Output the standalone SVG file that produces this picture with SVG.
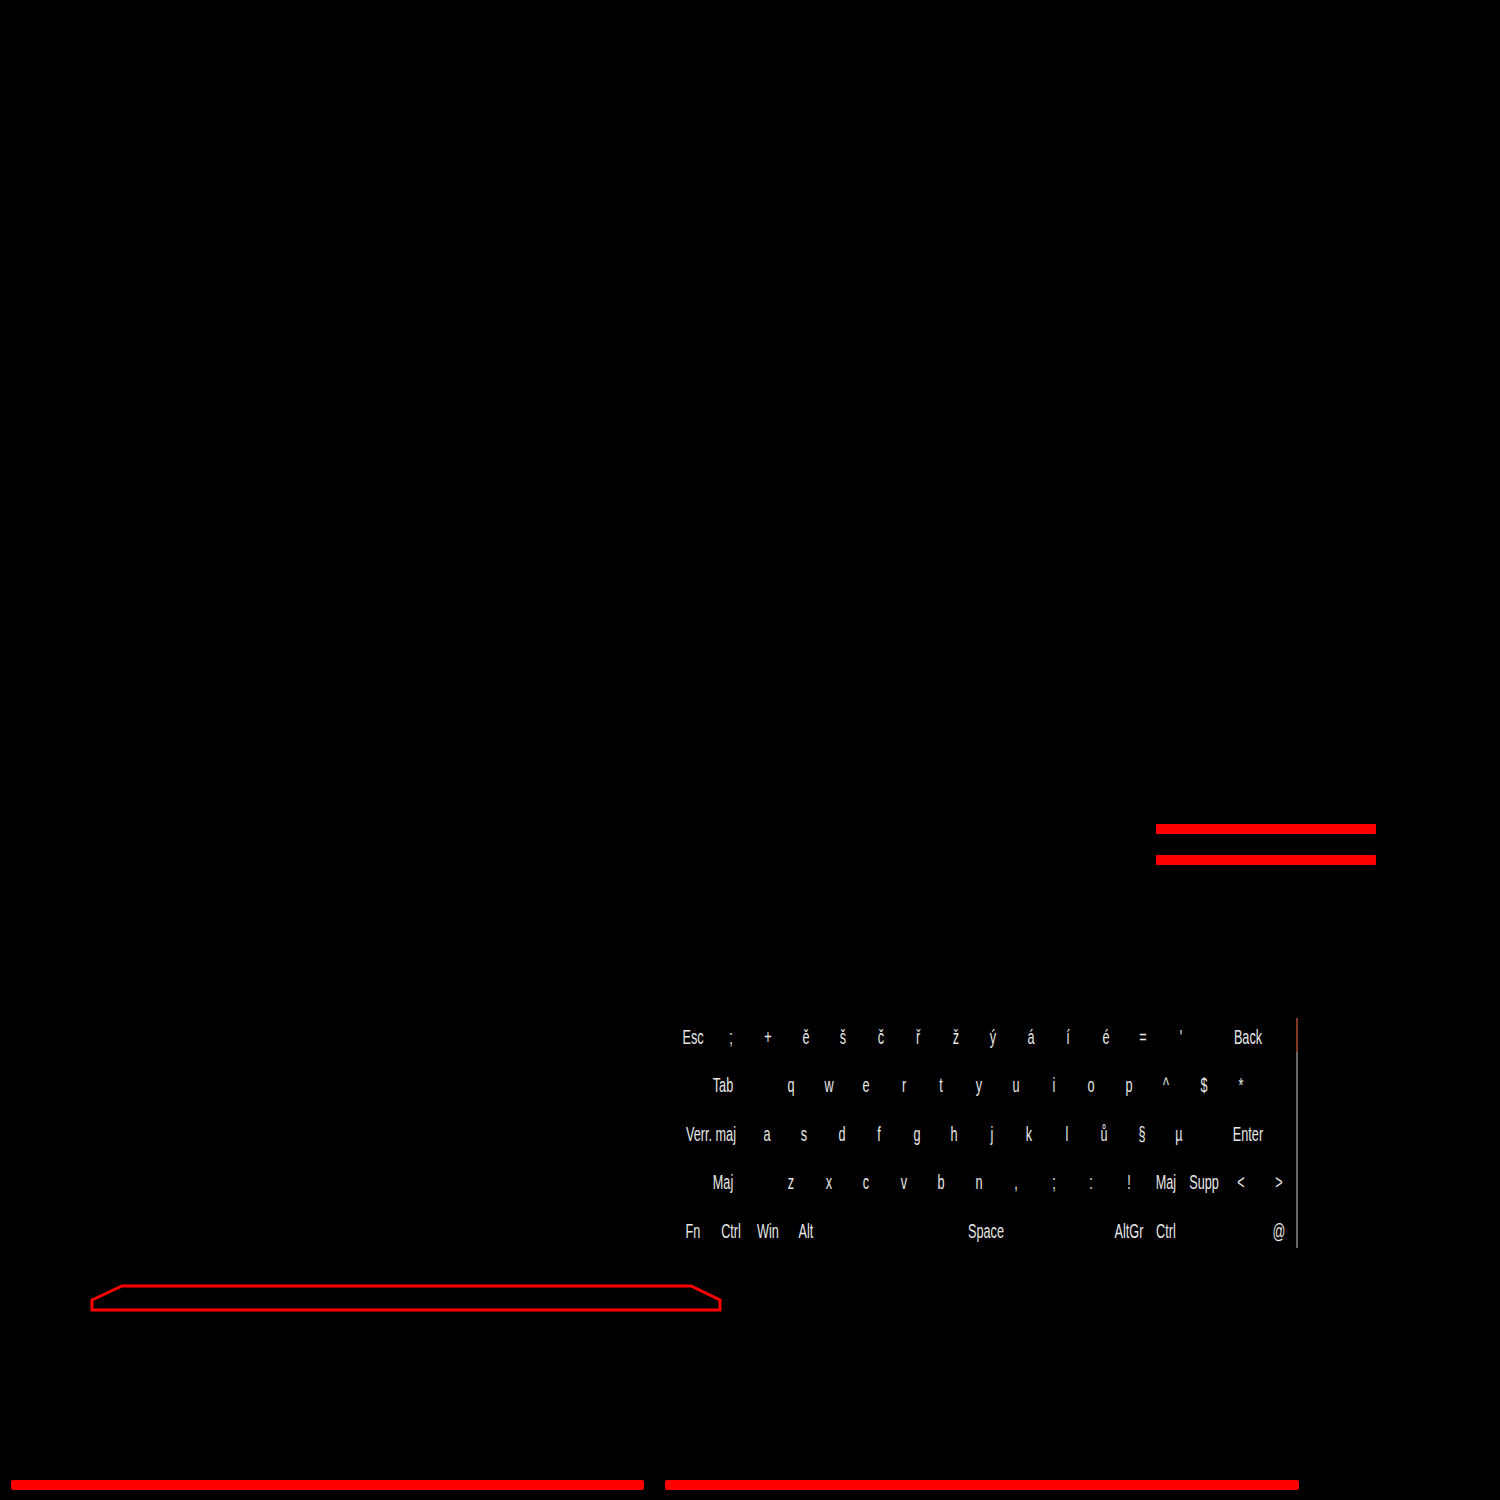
<svg xmlns="http://www.w3.org/2000/svg" width="1500" height="1500" viewBox="0 0 1500 1500">
<style>
.k{font-family:"Liberation Sans",Arial,sans-serif;font-size:19.5px;fill:#e8e8e8;text-anchor:middle}
.bar{fill:#ff0000}
</style>
<rect x="0" y="0" width="1500" height="1500" fill="#000"/>
<g id="bars-top">
<rect class="bar" x="1156" y="824" width="220" height="10" rx="1"/>
<rect class="bar" x="1156" y="855" width="220" height="10" rx="1"/>
</g>
<g id="tray">
<polygon points="92,1300 122,1286 691,1286 720,1300 720,1310 92,1310" fill="none" stroke="#ff0000" stroke-width="3"/>
</g>
<g id="bars-bottom">
<rect class="bar" x="11" y="1480" width="633" height="10" rx="2"/>
<rect class="bar" x="665" y="1480" width="634" height="10" rx="2"/>
</g>
<g id="edge">
<line x1="1297" y1="1018" x2="1297" y2="1248" stroke="#8a8a8a" stroke-width="1.5"/>
<line x1="1297" y1="1018" x2="1297" y2="1052" stroke="#8a2a10" stroke-width="1.5"/>
</g>
<g id="keyboard" transform="scale(0.65 1)">
<g id="row1">
<text class="k" x="1066.2" y="1044">Esc</text>
<text class="k" x="1124.6" y="1044">;</text>
<text class="k" x="1181.5" y="1044">+</text>
<text class="k" x="1240" y="1044">ě</text>
<text class="k" x="1296.9" y="1044">š</text>
<text class="k" x="1355.4" y="1044">č</text>
<text class="k" x="1412.3" y="1044">ř</text>
<text class="k" x="1470.8" y="1044">ž</text>
<text class="k" x="1527.7" y="1044">ý</text>
<text class="k" x="1586.2" y="1044">á</text>
<text class="k" x="1643.1" y="1044">í</text>
<text class="k" x="1701.5" y="1044">é</text>
<text class="k" x="1758.5" y="1044">=</text>
<text class="k" x="1816.9" y="1044">'</text>
<text class="k" x="1920" y="1044">Back</text>
</g>
<g id="row2">
<text class="k" x="1112.3" y="1092.5">Tab</text>
<text class="k" x="1216.9" y="1092.5">q</text>
<text class="k" x="1275.4" y="1092.5">w</text>
<text class="k" x="1332.3" y="1092.5">e</text>
<text class="k" x="1390.8" y="1092.5">r</text>
<text class="k" x="1447.7" y="1092.5">t</text>
<text class="k" x="1506.2" y="1092.5">y</text>
<text class="k" x="1563.1" y="1092.5">u</text>
<text class="k" x="1621.5" y="1092.5">i</text>
<text class="k" x="1678.5" y="1092.5">o</text>
<text class="k" x="1736.9" y="1092.5">p</text>
<text class="k" x="1793.8" y="1092.5">^</text>
<text class="k" x="1852.3" y="1092.5">$</text>
<text class="k" x="1909.2" y="1092.5">*</text>
</g>
<g id="row3">
<text class="k" x="1093.8" y="1141">Verr. maj</text>
<text class="k" x="1180" y="1141">a</text>
<text class="k" x="1236.9" y="1141">s</text>
<text class="k" x="1295.4" y="1141">d</text>
<text class="k" x="1352.3" y="1141">f</text>
<text class="k" x="1410.8" y="1141">g</text>
<text class="k" x="1467.7" y="1141">h</text>
<text class="k" x="1526.2" y="1141">j</text>
<text class="k" x="1583.1" y="1141">k</text>
<text class="k" x="1641.5" y="1141">l</text>
<text class="k" x="1698.5" y="1141">ů</text>
<text class="k" x="1756.9" y="1141">§</text>
<text class="k" x="1813.8" y="1141">µ</text>
<text class="k" x="1920" y="1141">Enter</text>
</g>
<g id="row4">
<text class="k" x="1112.3" y="1189.5">Maj</text>
<text class="k" x="1216.9" y="1189.5">z</text>
<text class="k" x="1275.4" y="1189.5">x</text>
<text class="k" x="1332.3" y="1189.5">c</text>
<text class="k" x="1390.8" y="1189.5">v</text>
<text class="k" x="1447.7" y="1189.5">b</text>
<text class="k" x="1506.2" y="1189.5">n</text>
<text class="k" x="1563.1" y="1189.5">,</text>
<text class="k" x="1621.5" y="1189.5">;</text>
<text class="k" x="1678.5" y="1189.5">:</text>
<text class="k" x="1736.9" y="1189.5">!</text>
<text class="k" x="1793.8" y="1189.5">Maj</text>
<text class="k" x="1852.3" y="1189.5">Supp</text>
<text class="k" x="1909.2" y="1189.5">&lt;</text>
<text class="k" x="1967.7" y="1189.5">&gt;</text>
</g>
<g id="row5">
<text class="k" x="1066.2" y="1238">Fn</text>
<text class="k" x="1124.6" y="1238">Ctrl</text>
<text class="k" x="1181.5" y="1238">Win</text>
<text class="k" x="1240" y="1238">Alt</text>
<text class="k" x="1516.9" y="1238">Space</text>
<text class="k" x="1736.9" y="1238">AltGr</text>
<text class="k" x="1793.8" y="1238">Ctrl</text>
<text class="k" x="1967.7" y="1238">@</text>
</g>
</g>
</svg>
